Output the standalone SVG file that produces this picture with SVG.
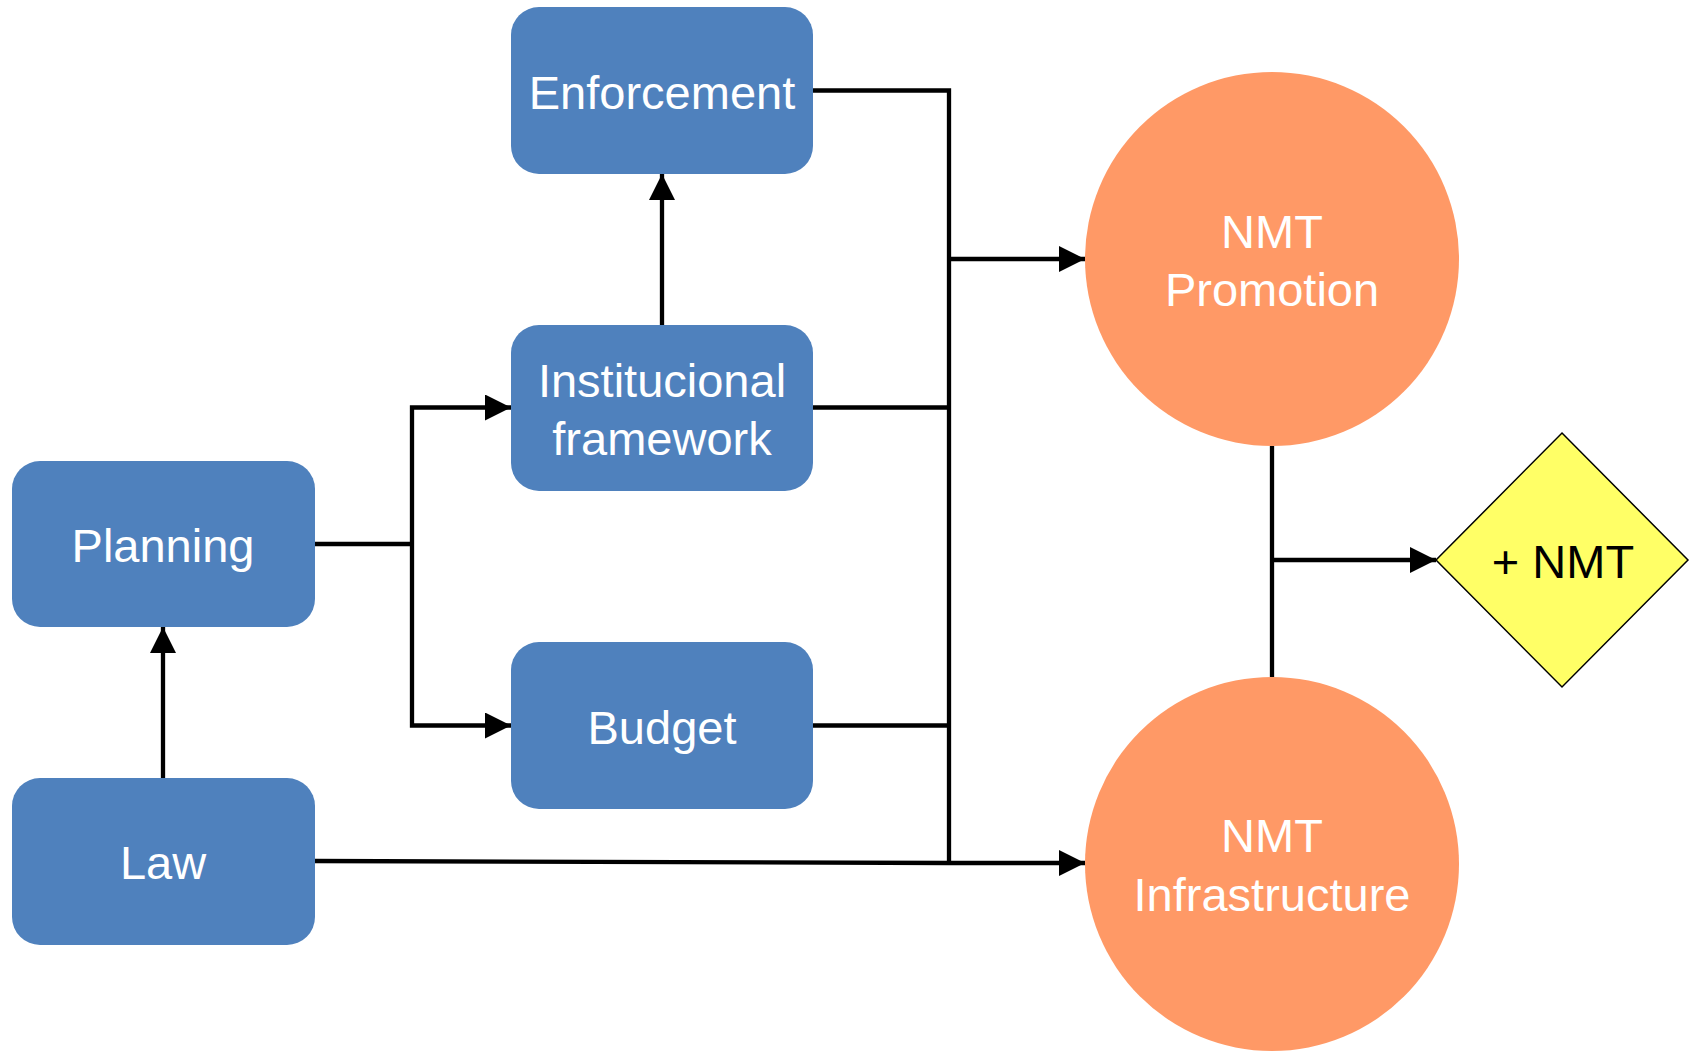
<svg xmlns="http://www.w3.org/2000/svg" width="1690" height="1053" viewBox="0 0 1690 1053">
<defs>
<marker id="arr" markerUnits="userSpaceOnUse" markerWidth="26" markerHeight="26" refX="26" refY="13" orient="auto">
<path d="M0,0 L26,13 L0,26 Z" fill="#000"/>
</marker>
<style>
.box{fill:#4F81BD;}
.circ{fill:#FF9966;}
.lbl{font-family:"Liberation Sans",Arial,sans-serif;font-size:47px;fill:#fff;text-anchor:middle;}
.conn{fill:none;stroke:#000;stroke-width:4.3;}
</style>
</defs>
<rect width="1690" height="1053" fill="#fff"/>
<g id="connectors">
<polyline class="conn" points="813,90.5 949,90.5 949,863"/>
<line class="conn" x1="813" y1="407.5" x2="949" y2="407.5"/>
<line class="conn" x1="813" y1="725.5" x2="949" y2="725.5"/>
<line class="conn" x1="949" y1="259" x2="1085" y2="259" marker-end="url(#arr)"/>
<polyline class="conn" points="315,861 949,863 1085,863" marker-end="url(#arr)"/>
<polyline class="conn" points="315,544 412,544"/>
<polyline class="conn" points="412,544 412,407.5 511,407.5" marker-end="url(#arr)"/>
<polyline class="conn" points="412,544 412,725.5 511,725.5" marker-end="url(#arr)"/>
<line class="conn" x1="163" y1="778" x2="163" y2="627" marker-end="url(#arr)"/>
<line class="conn" x1="662" y1="325" x2="662" y2="174" marker-end="url(#arr)"/>
<line class="conn" x1="1272" y1="446" x2="1272" y2="677"/>
<line class="conn" x1="1272" y1="560" x2="1436" y2="560" marker-end="url(#arr)"/>
</g>
<g id="enforcement">
<rect class="box" x="511" y="7" width="302" height="167" rx="28"/>
<text class="lbl" x="662" y="109">Enforcement</text>
</g>
<g id="institucional">
<rect class="box" x="511" y="325" width="302" height="166" rx="28"/>
<text class="lbl" x="662" y="397">Institucional</text>
<text class="lbl" x="662" y="455">framework</text>
</g>
<g id="planning">
<rect class="box" x="12" y="461" width="303" height="166" rx="28"/>
<text class="lbl" x="163" y="562">Planning</text>
</g>
<g id="budget">
<rect class="box" x="511" y="642" width="302" height="167" rx="28"/>
<text class="lbl" x="662" y="744">Budget</text>
</g>
<g id="law">
<rect class="box" x="12" y="778" width="303" height="167" rx="28"/>
<text class="lbl" x="163" y="879">Law</text>
</g>
<g id="nmt-promotion">
<circle class="circ" cx="1272" cy="259" r="187"/>
<text class="lbl" x="1272" y="248">NMT</text>
<text class="lbl" x="1272" y="306">Promotion</text>
</g>
<g id="nmt-infrastructure">
<circle class="circ" cx="1272" cy="864" r="187"/>
<text class="lbl" x="1272" y="852">NMT</text>
<text class="lbl" x="1272" y="911">Infrastructure</text>
</g>
<g id="plus-nmt">
<polygon points="1562,433 1688,560 1562,687 1436,560" fill="#FFFF66" stroke="#000" stroke-width="1.5"/>
<text class="lbl" x="1563" y="578" style="fill:#000">+ NMT</text>
</g>
</svg>
